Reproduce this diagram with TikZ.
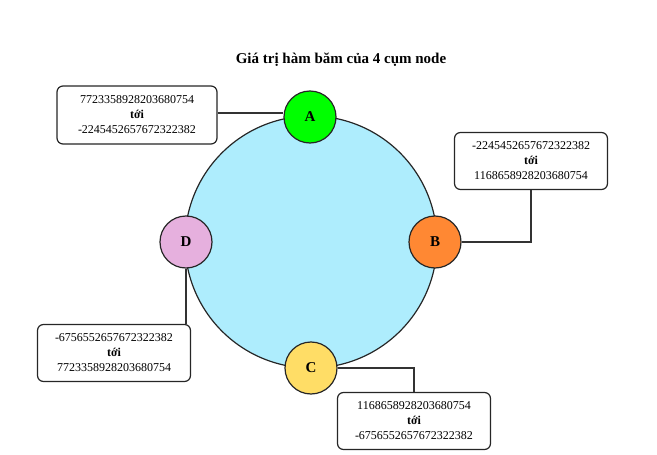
\documentclass[tikz,border=0pt]{standalone}
\usepackage{fontspec}
\setmainfont{Liberation Serif}
\begin{document}
\begin{tikzpicture}[x=1pt,y=-1pt,
  conn/.style={draw=black!80, line width=1.1pt},
  rbox/.style={draw=black!85, line width=1.2pt, rounded corners=6pt, fill=white, minimum width=153pt, minimum height=57pt, align=center, font=\fontsize{12}{15}\selectfont, inner sep=0pt},
  hnode/.style={circle, draw=black!85, line width=1.2pt, minimum size=52pt, inner sep=0pt, font=\fontsize{15}{18}\selectfont\bfseries}]
\useasboundingbox (0,0) rectangle (657,455);
\node[font=\fontsize{15}{18}\selectfont\bfseries] (title) at (341,60) {Giá trị hàm băm của 4 cụm node};
\node[circle, draw=black!85, line width=1.2pt, fill={rgb,255:red,174;green,237;blue,253}, minimum size=252pt, inner sep=0pt] (ring) at (311,242) {};
\node[hnode, fill={rgb,255:red,0;green,255;blue,0}] (A) at (310,117) {A};
\node[hnode, fill={rgb,255:red,255;green,136;blue,51}] (B) at (435,242) {B};
\node[hnode, fill={rgb,255:red,255;green,221;blue,102}] (C) at (311,368) {C};
\node[hnode, fill={rgb,255:red,230;green,176;blue,222}] (D) at (186,242) {D};
\node[rbox, minimum width=160pt, minimum height=58pt] (bA) at (137,115) {7723358928203680754\\\textbf{tới}\\-2245452657672322382};
\node[rbox] (bB) at (531,161) {-2245452657672322382\\\textbf{tới}\\1168658928203680754};
\node[rbox] (bD) at (114,353) {-6756552657672322382\\\textbf{tới}\\7723358928203680754};
\node[rbox] (bC) at (414,421) {1168658928203680754\\\textbf{tới}\\-6756552657672322382};
\draw[conn] (bA.east |- 0,113) -- (A.west |- 0,113);
\draw[conn] (bB.south) |- (B.east);
\draw[conn] (D.south) -- (bD.north -| D.south);
\draw[conn] (C.east) -| (bC.north);
\end{tikzpicture}
\end{document}
